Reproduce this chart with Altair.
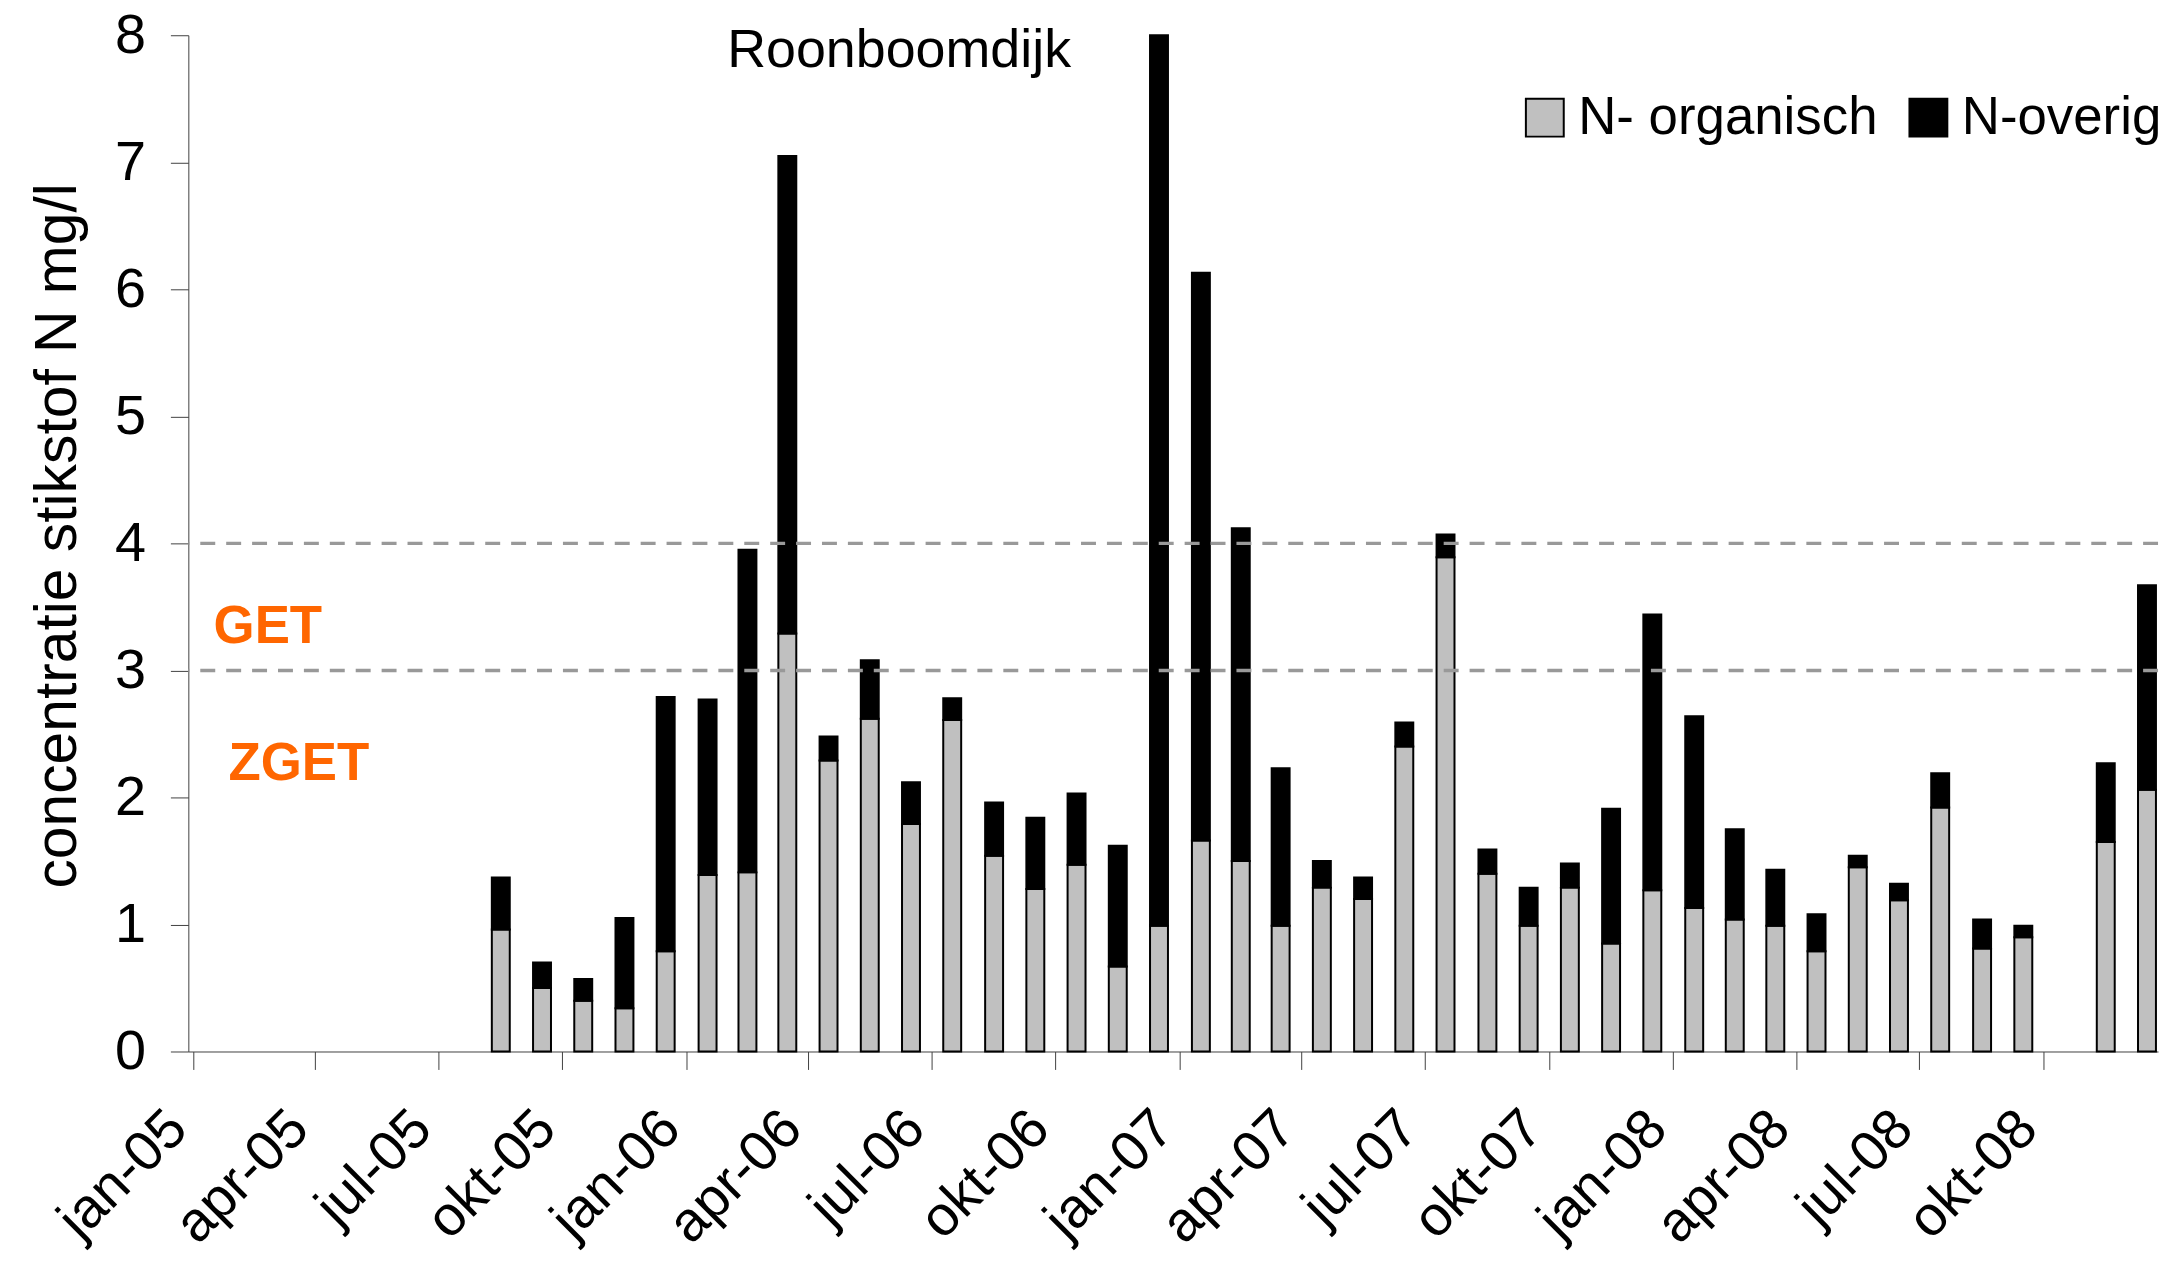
import altair as alt
import pandas as pd

# ---- data ----
months = ["2005-08", "2005-09", "2005-10", "2005-11", "2005-12",
          "2006-01", "2006-02", "2006-03", "2006-04", "2006-05", "2006-06",
          "2006-07", "2006-08", "2006-09", "2006-10", "2006-11", "2006-12",
          "2007-01", "2007-02", "2007-03", "2007-04", "2007-05", "2007-06",
          "2007-07", "2007-08", "2007-09", "2007-10", "2007-11", "2007-12",
          "2008-01", "2008-02", "2008-03", "2008-04", "2008-05", "2008-06",
          "2008-07", "2008-08", "2008-09", "2008-11", "2008-12"]
totaal = [1.37, 0.70, 0.57, 1.05, 2.79,
          2.77, 3.95, 7.05, 2.48, 3.08, 2.12,
          2.78, 1.96, 1.84, 2.03, 1.62, 8.00,
          6.13, 4.12, 2.23, 1.50, 1.37, 2.59,
          4.07, 1.59, 1.29, 1.48, 1.91, 3.44,
          2.64, 1.75, 1.43, 1.08, 1.54, 1.32,
          2.19, 1.04, 0.99, 2.27, 3.67]
organisch = [0.96, 0.50, 0.40, 0.34, 0.79,
             1.39, 1.41, 3.29, 2.29, 2.62, 1.79,
             2.61, 1.54, 1.28, 1.47, 0.67, 0.99,
             1.66, 1.50, 0.99, 1.29, 1.20, 2.40,
             3.89, 1.40, 0.99, 1.29, 0.85, 1.27,
             1.13, 1.04, 0.99, 0.79, 1.45, 1.19,
             1.92, 0.81, 0.90, 1.65, 2.06]
series = ["N- organisch", "N-overig"]
colors = ["#C0C0C0", "#000000"]
tick_quarters = [(2005, 1), (2005, 4), (2005, 7), (2005, 10),
                 (2006, 1), (2006, 4), (2006, 7), (2006, 10),
                 (2007, 1), (2007, 4), (2007, 7), (2007, 10),
                 (2008, 1), (2008, 4), (2008, 7), (2008, 10)]
nl_months = ["jan", "feb", "mrt", "apr", "mei", "jun",
             "jul", "aug", "sep", "okt", "nov", "dec"]
grenzen = [3, 4]
title_text = "Roonboomdijk"
y_title = "concentratie stikstof N mg/l"

FONT = "Liberation Sans"

# ---- build table ----
rows = []
for m, tot, org in zip(months, totaal, organisch):
    start = pd.Timestamp(m + "-01")
    end = start + pd.offsets.MonthBegin(1)
    mid = start + (end - start) / 2
    rows.append({"datum": mid, "serie": series[0], "lo": 0.0, "hi": org})
    rows.append({"datum": mid, "serie": series[1], "lo": org, "hi": tot})
df = pd.DataFrame(rows)

label_expr = ("[" + ",".join("'%s'" % n for n in nl_months) + "][month(datum.value)]"
              " + '-' + timeFormat(datum.value, '%y')")

x_scale = alt.Scale(domain=[alt.DateTime(year=2005, month=1, date=1),
                            alt.DateTime(year=2008, month=12, date=21)])
y_scale = alt.Scale(domain=[0, 8], nice=False)

bars = alt.Chart(df).mark_bar(width=18, stroke="black", strokeWidth=2).encode(
    x=alt.X("datum:T", scale=x_scale,
            axis=alt.Axis(values=[alt.DateTime(year=y, month=mo, date=1) for y, mo in tick_quarters],
                          labelExpr=label_expr, labelAngle=-45, labelAlign="right",
                          labelBaseline="middle", labelPadding=50, labelOffset=-16,
                          labelOverlap=False, labelBound=False, labelFlush=False,
                          tickSize=18, title=None, grid=False,
                          labelFontSize=56, labelFont=FONT, labelColor="black",
                          domainColor="#404040", tickColor="#404040")),
    y=alt.Y("hi:Q", scale=y_scale,
            axis=alt.Axis(values=list(range(0, 9)), format="d", tickSize=18, labelPadding=25,
                          labelFontSize=56, labelFont=FONT, labelColor="black",
                          labelOverlap=False, labelFlush=False, labelBound=False,
                          grid=False, title=y_title, titleFontSize=59, titleFont=FONT,
                          titleFontWeight="normal", titleColor="black",
                          titleAngle=-90, titleX=-131, titleY=502,
                          titleAlign="center", titleBaseline="middle",
                          domainColor="#404040", tickColor="#404040")),
    y2="lo:Q",
    color=alt.Color("serie:N", scale=alt.Scale(domain=series, range=colors),
                    legend=alt.Legend(title=None, orient="none", legendX=1335, legendY=56,
                                      direction="horizontal", symbolType="square",
                                      symbolSize=1444, symbolStrokeColor="black",
                                      symbolStrokeWidth=2, labelFontSize=53,
                                      labelFont=FONT, labelColor="black", labelLimit=0,
                                      labelOffset=7, columnPadding=24,
                                      symbolOpacity=1)),
)

thr_df = pd.DataFrame({"grens": grenzen})
rules = alt.Chart(thr_df).mark_rule(color="#999999", strokeWidth=3.5,
                                    strokeDash=[15, 11]).encode(y=alt.Y("grens:Q", scale=y_scale))

title_df = pd.DataFrame({"datum": [pd.Timestamp("2006-01-31")], "v": [7.75], "t": [title_text]})
title_mark = alt.Chart(title_df).mark_text(font=FONT, fontSize=54, color="black",
                                            align="left", baseline="alphabetic").encode(
    x=alt.X("datum:T", scale=x_scale), y=alt.Y("v:Q", scale=y_scale), text="t:N")

zone_df = pd.DataFrame({"datum": [pd.Timestamp("2005-01-16"), pd.Timestamp("2005-01-27")],
                        "v": [3.216, 2.14], "t": ["GET", "ZGET"]})
zone_mark = alt.Chart(zone_df).mark_text(font=FONT, fontSize=53, fontWeight="bold",
                                          color="#FF6600", align="left",
                                          baseline="alphabetic").encode(
    x=alt.X("datum:T", scale=x_scale), y=alt.Y("v:Q", scale=y_scale), text="t:N")

chart = alt.layer(bars, rules, title_mark, zone_mark).properties(
    width=1977, height=1020,
    autosize=alt.AutoSizeParams(type="none"),
    padding={"left": 181, "top": 25, "right": 12, "bottom": 226},
).configure_view(stroke=None).configure_axis(domainWidth=1, tickWidth=1)

chart.save("out.html", embed_options={"renderer": "svg", "actions": False})
